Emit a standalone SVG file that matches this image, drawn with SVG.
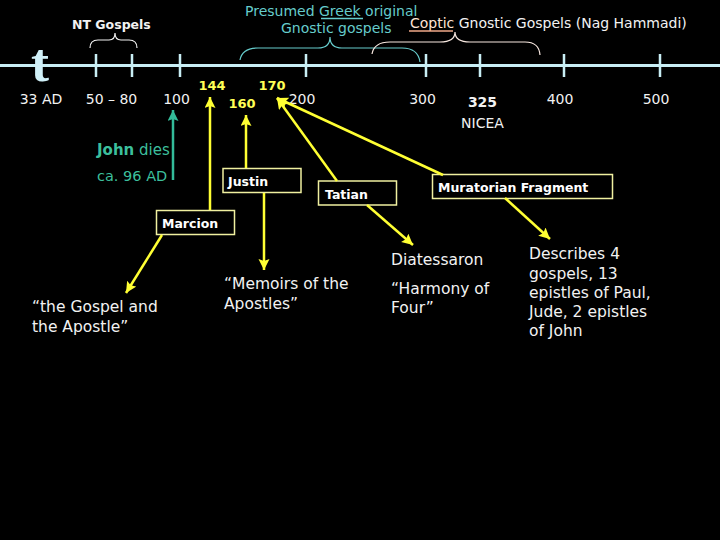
<svg xmlns="http://www.w3.org/2000/svg" width="720" height="540" viewBox="0 0 720 540">
<style>
.lbl{font-family:"DejaVu Sans",Verdana,sans-serif;font-size:14px;fill:#f2f2f2;text-anchor:middle}
.yr{font-family:"DejaVu Sans",Verdana,sans-serif;font-size:13px;font-weight:bold;fill:#ffff55;text-anchor:middle}
.body{font-family:"DejaVu Sans",Verdana,sans-serif;font-size:15.5px;fill:#f2f2f2}
.box rect{fill:none;stroke:#f0f0a0;stroke-width:1.5}
.box text{font-family:"DejaVu Sans",Verdana,sans-serif;font-size:12.5px;font-weight:bold;fill:#ffffff}
.tick{stroke:#c8eef4;stroke-width:2.5}
.ya{stroke:#ffff33;stroke-width:2.5;fill:none;marker-end:url(#ah)}
.teal{font-family:"DejaVu Sans",Verdana,sans-serif;font-size:14px;fill:#66cccc}
.green{font-family:"DejaVu Sans",Verdana,sans-serif;fill:#3cbf9c}
</style>
<defs>
<marker id="ah" markerUnits="userSpaceOnUse" markerWidth="12" markerHeight="12" refX="11" refY="5.5" orient="auto">
<path d="M0,0 L11,5.5 L0,11 L2,5.5 z" fill="#ffff33"/>
</marker>
<marker id="gh" markerUnits="userSpaceOnUse" markerWidth="12" markerHeight="12" refX="11" refY="5.5" orient="auto">
<path d="M0,0 L11,5.5 L0,11 L2,5.5 z" fill="#33bb99"/>
</marker>
</defs>
<rect x="0" y="0" width="720" height="540" fill="#000"/>

<g id="timeline">
<line x1="0" y1="65.5" x2="720" y2="65.5" stroke="#c8eef4" stroke-width="3"/>
<line class="tick" x1="96" y1="54" x2="96" y2="77"/>
<line class="tick" x1="132" y1="54" x2="132" y2="77"/>
<line class="tick" x1="180" y1="54" x2="180" y2="77"/>
<line class="tick" x1="306" y1="54" x2="306" y2="77"/>
<line class="tick" x1="426" y1="54" x2="426" y2="77"/>
<line class="tick" x1="480" y1="54" x2="480" y2="77"/>
<line class="tick" x1="564" y1="54" x2="564" y2="77"/>
<line class="tick" x1="660" y1="54" x2="660" y2="77"/>
<text x="40" y="81" font-family="Liberation Serif,serif" font-size="54" font-weight="bold" fill="#d0f0f8" text-anchor="middle">t</text>
<text class="lbl" x="41" y="104">33 AD</text>
<text class="lbl" x="111.5" y="104">50 – 80</text>
<text class="lbl" x="176.5" y="104">100</text>
<text class="lbl" x="302" y="104">200</text>
<text class="lbl" x="422.5" y="104">300</text>
<text class="lbl" x="560" y="104">400</text>
<text class="lbl" x="656" y="104">500</text>
<text class="lbl" x="482.5" y="107" font-size="19" font-weight="bold">325</text>
<text class="lbl" x="482.5" y="128" font-size="16.5">NICEA</text>
<text class="yr" x="212" y="90">144</text>
<text class="yr" x="242" y="108">160</text>
<text class="yr" x="272" y="90">170</text>
</g>

<g id="nt-gospels">
<text x="72" y="29" font-family="DejaVu Sans,Verdana,sans-serif" font-size="12.5" font-weight="bold" fill="#f2f2f2">NT Gospels</text>
<path d="M90,48 Q90,40 98,40 L109,40 Q115,40 115,33 Q115,40 121,40 L129,40 Q137,40 137,48" fill="none" stroke="#f2f2f2" stroke-width="1.2"/>
</g>

<g id="greek-gnostic">
<text class="teal" x="245" y="16">Presumed Greek original</text>
<line x1="321" y1="18.5" x2="363" y2="18.5" stroke="#66cccc" stroke-width="1.5"/>
<text class="teal" x="281" y="33">Gnostic gospels</text>
<path d="M240,60 Q242,48 258,48 L318,48 Q330,48 330,37 Q330,48 342,48 L402,48 Q418,48 420,62" fill="none" stroke="#66cccc" stroke-width="1.2"/>
</g>

<g id="coptic-gnostic">
<text x="410" y="28" font-family="DejaVu Sans,Verdana,sans-serif" font-size="14" fill="#f2f2f2"><tspan fill="#ffe4d4">Coptic</tspan> Gnostic Gospels (Nag Hammadi)</text>
<line x1="409" y1="31" x2="453" y2="31" stroke="#f0a888" stroke-width="1.5"/>
<path d="M372,54 Q374,42 390,42 L440,42 Q455,42 455,32 Q455,42 470,42 L525,42 Q539,42 540,55" fill="none" stroke="#f8e8e0" stroke-width="1.2"/>
</g>

<g id="john">
<text class="green" x="97" y="155" font-size="15"><tspan font-weight="bold">John</tspan> dies</text>
<text class="green" x="97" y="181" font-size="14.5">ca. 96 AD</text>
</g>

<g id="justin" class="box">
<rect x="223" y="168.5" width="78" height="24"/>
<text x="228" y="186" font-size="13">Justin</text>
</g>
<g id="tatian" class="box">
<rect x="318.5" y="181" width="78" height="24"/>
<text x="325" y="198.5">Tatian</text>
</g>
<g id="marcion" class="box">
<rect x="156.5" y="210.5" width="78" height="24"/>
<text x="162" y="228">Marcion</text>
</g>
<g id="muratorian" class="box">
<rect x="432.5" y="174.5" width="180" height="24"/>
<text x="438" y="192">Muratorian Fragment</text>
</g>

<g id="diatessaron">
<text class="body" x="391" y="265">Diatessaron</text>
<text class="body" x="391" y="294">“Harmony of</text>
<text class="body" x="391" y="313">Four”</text>
</g>
<g id="describes">
<text class="body" x="529" y="259">Describes 4</text>
<text class="body" x="529" y="279">gospels, 13</text>
<text class="body" x="529" y="298">epistles of Paul,</text>
<text class="body" x="529" y="317">Jude, 2 epistles</text>
<text class="body" x="529" y="336">of John</text>
</g>
<g id="gospel-apostle">
<text class="body" x="32" y="312">“the Gospel and</text>
<text class="body" x="32" y="332">the Apostle”</text>
</g>
<g id="memoirs">
<text class="body" x="224" y="289">“Memoirs of the</text>
<text class="body" x="224" y="309">Apostles”</text>
</g>

<g id="connectors">
<line x1="173" y1="180" x2="173" y2="110" stroke="#33bb99" stroke-width="2.5" marker-end="url(#gh)"/>
<line class="ya" x1="210" y1="210" x2="210" y2="97"/>
<line class="ya" x1="246" y1="168" x2="246" y2="115"/>
<line class="ya" x1="337" y1="181" x2="277" y2="98"/>
<line class="ya" x1="443" y1="175" x2="277" y2="98"/>
<line class="ya" x1="162" y1="235" x2="126" y2="293"/>
<line class="ya" x1="264" y1="193" x2="264" y2="270"/>
<line class="ya" x1="367" y1="205" x2="413" y2="245"/>
<line class="ya" x1="505" y1="198" x2="550" y2="239"/>
</g>
</svg>
